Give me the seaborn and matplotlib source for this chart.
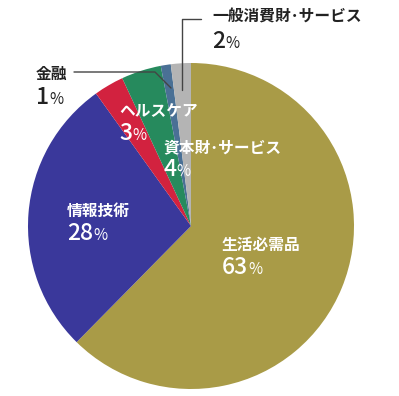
import matplotlib
matplotlib.use("Agg")
import matplotlib.pyplot as plt
import seaborn as sns

sns.set_theme(style="white")
plt.rcParams['font.family'] = ['Noto Sans CJK JP', 'DejaVu Sans']

# data (clockwise from 12 o'clock)
sectors = ['生活必需品', '情報技術', 'ヘルスケア', '資本財･サービス', '金融', '一般消費財･サービス']
shares = [63, 28, 3, 4, 1, 2]
colors = sns.color_palette(['#a99b47', '#3a389b', '#d2223f', '#268a5d', '#4a7095', '#b4b4b4'])

fig = plt.figure(figsize=(3.99, 3.96), dpi=100)
ax = fig.add_axes([0, 0, 1, 1])

# y axis is flipped below, so counterclock + start at -90 reads clockwise from the top
ax.pie(shares, colors=colors, startangle=-90, counterclock=True,
       center=(191, 226), radius=163, wedgeprops=dict(linewidth=0))
ax.set_xlim(0, 399)
ax.set_ylim(396, 0)
ax.set_aspect('equal')
ax.axis('off')

# label positions (x, name y, value y, text colour)
label_pos = {
    '生活必需品': (222, 245, 267, 'white'),
    '情報技術': (67, 211, 234, 'white'),
    'ヘルスケア': (119, 111, 134, 'white'),
    '資本財･サービス': (163, 147, 169, 'white'),
    '金融': (36, 74, 98, '#222222'),
    '一般消費財･サービス': (212, 17, 42, '#222222'),
}

fig.canvas.draw()
renderer = fig.canvas.get_renderer()
inv = ax.transData.inverted()
for name, val in zip(sectors, shares):
    x, y1, y2, c = label_pos[name]
    ax.text(x, y1, name, color=c, fontsize=11.3, fontweight='bold',
            ha='left', va='center')
    t = ax.text(x, y2, str(val), color=c, fontsize=16.5, fontweight='medium',
                ha='left', va='center')
    bb = t.get_window_extent(renderer)
    x_end = inv.transform((bb.x1, bb.y0))[0]
    ax.text(x_end, y2 + 2, '%', color=c, fontsize=11, ha='left', va='center')

# leader lines
ax.plot([182, 182, 201], [90, 19, 19], color='#444444', linewidth=1)
ax.plot([74, 155, 171], [72, 72, 88], color='#444444', linewidth=1)

fig.savefig('out.png', dpi=100)
